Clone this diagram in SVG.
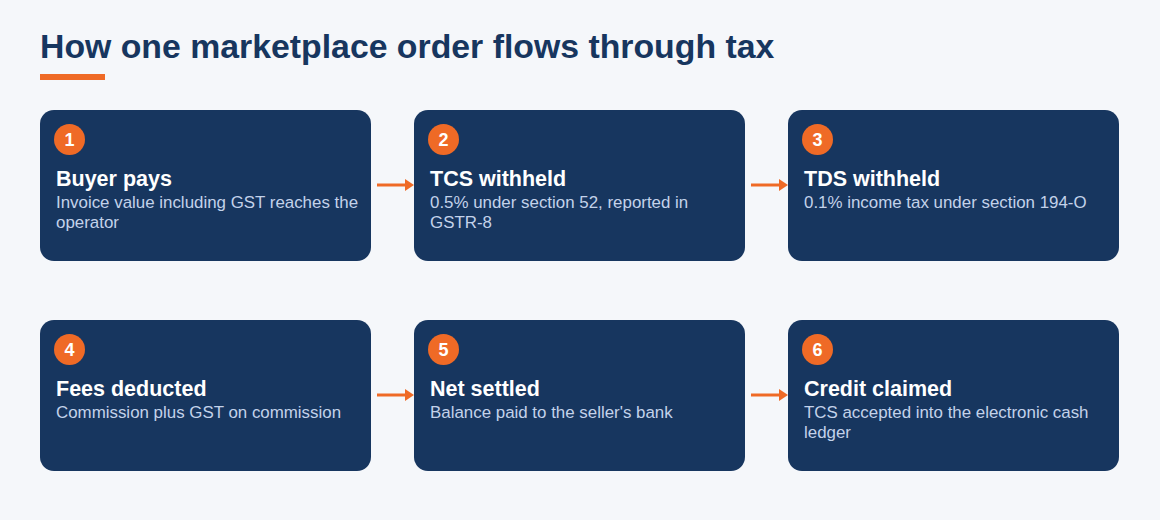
<svg xmlns="http://www.w3.org/2000/svg" width="1160" height="520" viewBox="0 0 1160 520">
<defs>
<style>
.card{fill:#17365f}
.badge{fill:#ef6a26}
.num{font-family:"Liberation Sans",Arial,sans-serif;font-weight:bold;font-size:18px;fill:#ffffff;text-anchor:middle}
.ttl{font-family:"Liberation Sans",Arial,sans-serif;font-weight:bold;font-size:21.5px;fill:#ffffff}
.dsc{font-family:"Liberation Sans",Arial,sans-serif;font-size:16.9px;fill:#c3d2ea}
.conn{stroke:#ef6a26;stroke-width:3;fill:none}
</style>
<marker id="ah" markerWidth="9" markerHeight="12" refX="0" refY="6" orient="auto" markerUnits="userSpaceOnUse">
<path d="M0,0 L9,6 L0,12 Z" fill="#ef6a26"/>
</marker>
</defs>
<rect width="1160" height="520" fill="#f5f7fa"/>
<text x="40" y="58" font-family="'Liberation Sans',Arial,sans-serif" font-weight="bold" font-size="33.8" fill="#17365f">How one marketplace order flows through tax</text>
<rect x="40" y="74" width="65" height="6" fill="#ef6a26"/>

<g id="connectors">
<line class="conn" x1="377" y1="185" x2="405" y2="185" marker-end="url(#ah)"/>
<line class="conn" x1="751" y1="185" x2="779" y2="185" marker-end="url(#ah)"/>
<line class="conn" x1="377" y1="395" x2="405" y2="395" marker-end="url(#ah)"/>
<line class="conn" x1="751" y1="395" x2="779" y2="395" marker-end="url(#ah)"/>
</g>

<g id="node1">
<rect class="card" x="40" y="110" width="331" height="151" rx="14"/>
<circle class="badge" cx="69.5" cy="139.5" r="15.5"/>
<text class="num" x="69.5" y="146">1</text>
<text class="ttl" x="56" y="186">Buyer pays</text>
<text class="dsc" x="56" y="208">Invoice value including GST reaches the</text>
<text class="dsc" x="56" y="228">operator</text>
</g>
<g id="node2">
<rect class="card" x="414" y="110" width="331" height="151" rx="14"/>
<circle class="badge" cx="443.5" cy="139.5" r="15.5"/>
<text class="num" x="443.5" y="146">2</text>
<text class="ttl" x="430" y="186">TCS withheld</text>
<text class="dsc" x="430" y="208">0.5% under section 52, reported in</text>
<text class="dsc" x="430" y="228">GSTR-8</text>
</g>
<g id="node3">
<rect class="card" x="788" y="110" width="331" height="151" rx="14"/>
<circle class="badge" cx="817.5" cy="139.5" r="15.5"/>
<text class="num" x="817.5" y="146">3</text>
<text class="ttl" x="804" y="186">TDS withheld</text>
<text class="dsc" x="804" y="208">0.1% income tax under section 194-O</text>
</g>
<g id="node4">
<rect class="card" x="40" y="320" width="331" height="151" rx="14"/>
<circle class="badge" cx="69.5" cy="349.5" r="15.5"/>
<text class="num" x="69.5" y="356">4</text>
<text class="ttl" x="56" y="396">Fees deducted</text>
<text class="dsc" x="56" y="418">Commission plus GST on commission</text>
</g>
<g id="node5">
<rect class="card" x="414" y="320" width="331" height="151" rx="14"/>
<circle class="badge" cx="443.5" cy="349.5" r="15.5"/>
<text class="num" x="443.5" y="356">5</text>
<text class="ttl" x="430" y="396">Net settled</text>
<text class="dsc" x="430" y="418">Balance paid to the seller's bank</text>
</g>
<g id="node6">
<rect class="card" x="788" y="320" width="331" height="151" rx="14"/>
<circle class="badge" cx="817.5" cy="349.5" r="15.5"/>
<text class="num" x="817.5" y="356">6</text>
<text class="ttl" x="804" y="396">Credit claimed</text>
<text class="dsc" x="804" y="418">TCS accepted into the electronic cash</text>
<text class="dsc" x="804" y="438">ledger</text>
</g>
</svg>
